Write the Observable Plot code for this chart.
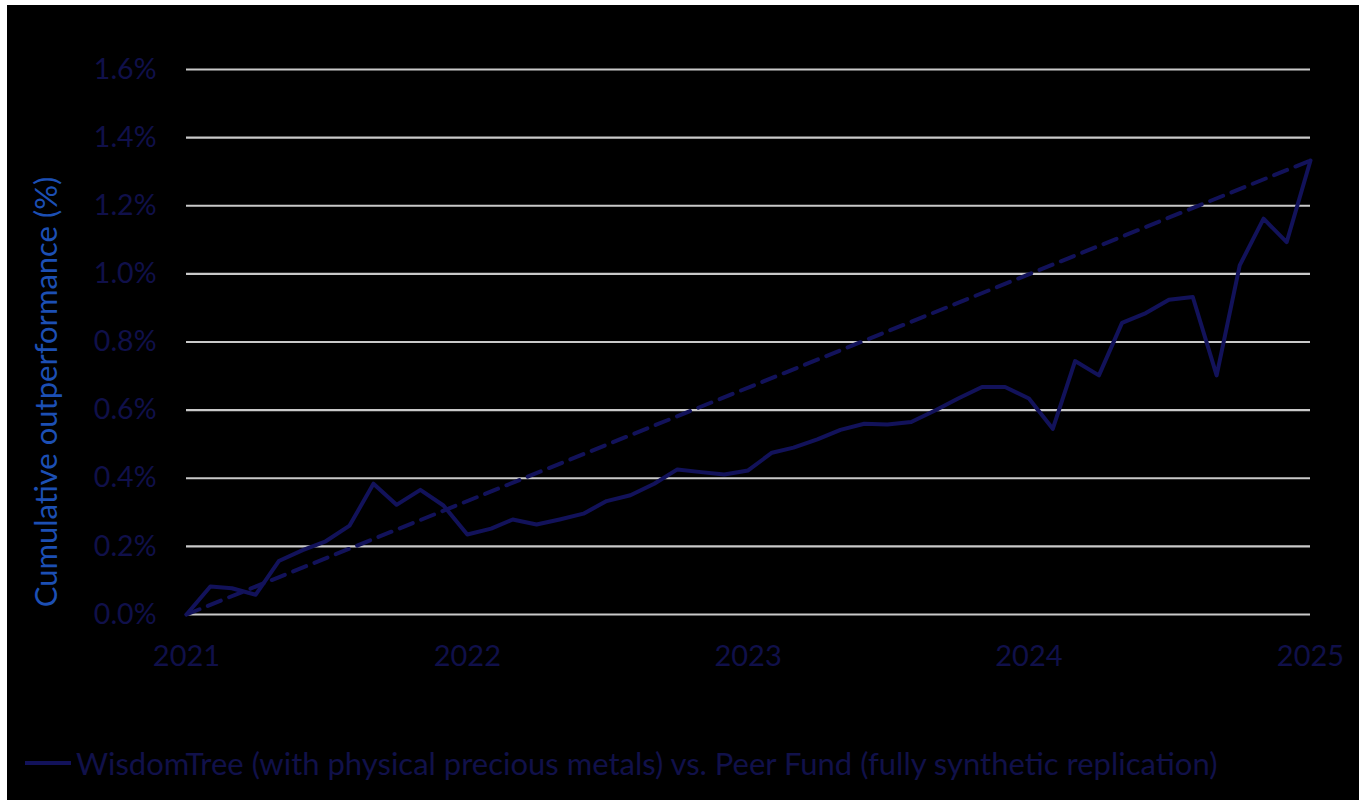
<!DOCTYPE html>
<html>
<head>
<meta charset="utf-8">
<script src="https://cdn.jsdelivr.net/npm/d3@7"></script>
<script src="https://cdn.jsdelivr.net/npm/@observablehq/plot@0.6"></script>
<style>
  html, body { margin: 0; padding: 0; background: #ffffff; }
  #frame { position: absolute; left: 7px; top: 5px; width: 1352px; height: 800px; background: #000000; overflow: hidden; }
  #legend { position: absolute; left: 18px; top: 739px; display: flex; align-items: center; font-family: Lato, "Open Sans", sans-serif; font-size: 31px; color: #11114a; white-space: nowrap; }
  #legend .swatch { width: 46px; height: 4px; background: #12125a; margin-right: 5px; }
</style>
</head>
<body>
<div id="frame">
  <div id="chart"></div>
  <div id="legend"><span class="swatch"></span><span id="legendText"></span></div>
</div>
<script>
// Monthly observations, Jan 2021 – Jan 2025
const startMonth = "2021-01-01";
const endMonth = "2025-01-01";
const outperformance = [
  0.000, 0.082, 0.077, 0.058, 0.157, 0.189, 0.215, 0.261, 0.384, 0.322, 0.366, 0.320,
  0.235, 0.252, 0.279, 0.264, 0.279, 0.296, 0.333, 0.350, 0.384, 0.426, 0.418, 0.411,
  0.423, 0.475, 0.490, 0.514, 0.542, 0.560, 0.558, 0.565, 0.599, 0.634, 0.668, 0.668,
  0.634, 0.545, 0.744, 0.702, 0.856, 0.885, 0.924, 0.932, 0.702, 1.025, 1.162, 1.093,
  1.333
];
const trendDates = ["2021-01-01", "2025-01-01"];
const trendValues = [0.000, 1.333];
const yTicks = [0, 0.2, 0.4, 0.6, 0.8, 1.0, 1.2, 1.4, 1.6];
const xTickYears = ["2021-01-01", "2022-01-01", "2023-01-01", "2024-01-01", "2025-01-01"];
const yTitle = "Cumulative outperformance (%)";
const seriesName = "WisdomTree (with physical precious metals) vs. Peer Fund (fully synthetic replication)";

document.getElementById("legendText").textContent = seriesName;

const months = d3.utcMonth.range(new Date(startMonth), d3.utcDay.offset(new Date(endMonth), 1));
const solid = months.map((d, i) => ({date: d, value: outperformance[i]}));
const trend = trendDates.map((d, i) => ({date: new Date(d), value: trendValues[i]}));

const navy = "#12125a";
const tickColor = "#10104a";

const chart = Plot.plot({
  width: 1352,
  height: 679,
  marginLeft: 179,
  marginRight: 49,
  marginTop: 64,
  marginBottom: 70,
  style: {background: "transparent", fontFamily: "Lato, 'Open Sans', sans-serif", color: tickColor},
  x: {type: "utc", domain: [new Date(startMonth), new Date(endMonth)], label: null},
  y: {domain: [0, 1.6], label: null},
  marks: [
    Plot.ruleY(yTicks, {stroke: "#c9c9c9", strokeWidth: 2.2}),
    Plot.axisY({ticks: yTicks, tickSize: 0, tickPadding: 30, tickFormat: d => d.toFixed(1) + "%", fontSize: 28.5, fill: tickColor, label: null}),
    Plot.axisX({ticks: xTickYears.map(d => new Date(d)), tickSize: 0, tickPadding: 31, tickFormat: d3.utcFormat("%Y"), fontSize: 29, fill: tickColor, label: null}),
    Plot.line(trend, {x: "date", y: "value", stroke: navy, strokeWidth: 4, strokeDasharray: "14,9"}),
    Plot.line(solid, {x: "date", y: "value", stroke: navy, strokeWidth: 4}),
    Plot.text([yTitle], {frameAnchor: "left", text: d => d, rotate: -90, dx: -139, dy: 50, fill: "#1c4fb4", fontSize: 31, textAnchor: "middle", lineAnchor: "middle"})
  ]
});
document.getElementById("chart").appendChild(chart);
</script>
</body>
</html>
